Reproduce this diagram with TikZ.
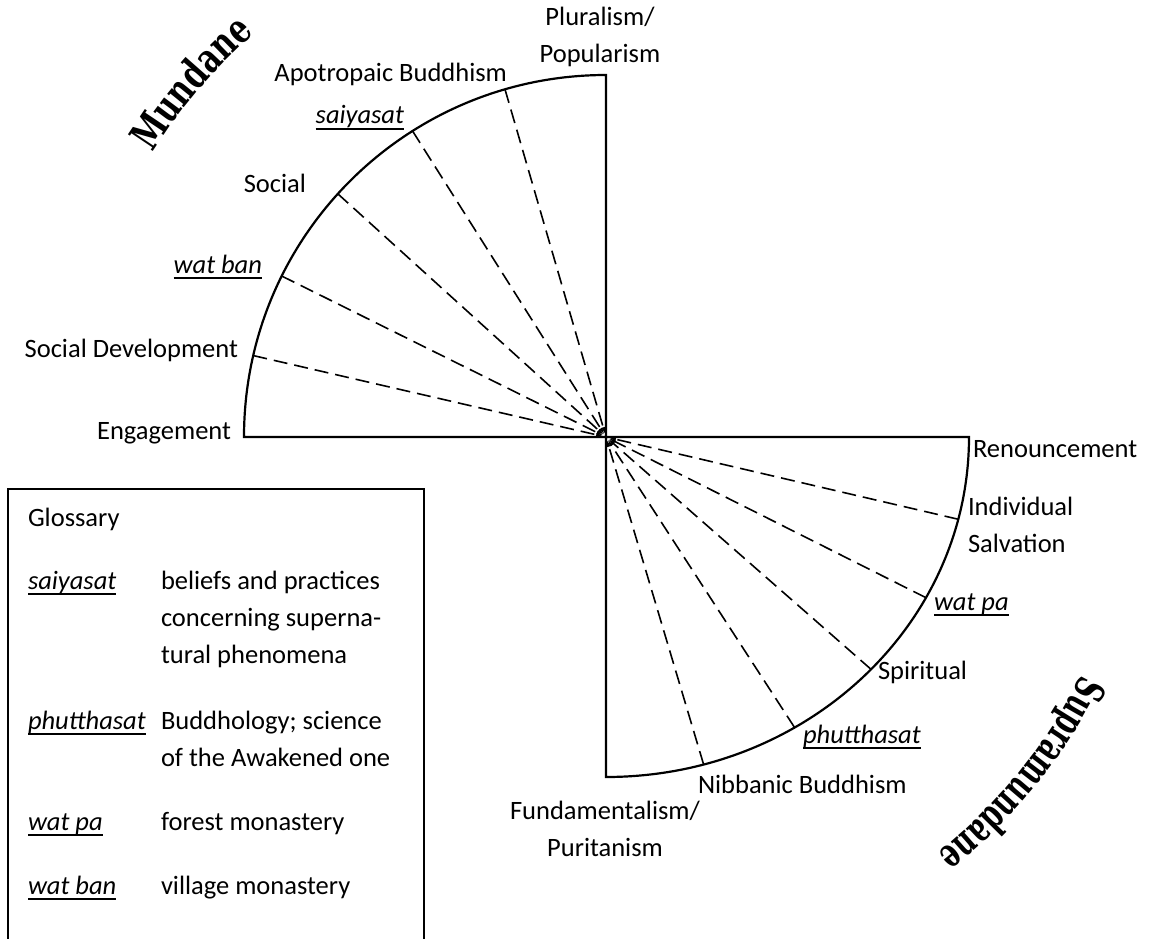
\documentclass[tikz,border=0pt]{standalone}
\usepackage{fontspec}
\setmainfont{Carlito}
\newfontfamily\mundfamily{DejaVu Serif}[FakeStretch=0.73]
\newfontfamily\suprfamily{DejaVu Serif}[FakeStretch=0.66]
\usetikzlibrary{arrows.meta,decorations.text}
\newcommand\ulit[1]{{\setbox0\hbox{\itshape #1}\rlap{\rule[-6.3pt]{\wd0}{2pt}}\box0}}
\newcommand\mundserif{\mundfamily\bfseries\fontsize{41}{44}\selectfont}
\newcommand\suprserif{\suprfamily\bfseries\fontsize{41}{44}\selectfont}
\begin{document}
\begin{tikzpicture}[x=1pt,y=1pt,
  lab/.style={font=\fontsize{26.5}{37}\selectfont, inner sep=0pt, outer sep=0pt},
  outline/.style={line width=2.2pt, line join=miter},
  dashline/.style={line width=1.6pt, dash pattern=on 14pt off 7pt, -{Latex[length=10pt,width=3.6pt]}},
  gbox/.style={line width=1.6pt}
  ]
\useasboundingbox (0,0) rectangle (1149,-939);
\coordinate (C) at (606,-437);
% quadrants
\draw[outline] (C) -- ++(180:362) arc[start angle=180,end angle=90,radius=362] -- cycle;
\draw[outline] (C) -- ++(0:363) arc[start angle=0,end angle=-90,x radius=363,y radius=340] -- cycle;
% dashed rays
\foreach \a [count=\i] in {106.2,122.3,137.8,153.6,167}{
  \coordinate (u\i) at ([shift={(\a:362)}]C);
  \draw[dashline] (u\i) -- (C);
}
\foreach \t [count=\i] in {-14,-28.2,-43.1,-58.7,-74.4}{
  \coordinate (l\i) at ([shift={({363*cos(\t)},{340*sin(\t)})}]C);
  \draw[dashline] (l\i) -- (C);
}
% upper-left labels
\node[lab, anchor=base east] (eng) at (231,-439) {Engagement};
\node[lab, anchor=base east] (sdev) at (238,-357) {Social Development};
\node[lab, anchor=base east] (wban) at (262,-273) {\ulit{wat ban}};
\node[lab, anchor=base east] (soc) at (306,-193) {Social};
\node[lab, anchor=base east] (sai) at (404,-124) {\ulit{saiyasat}};
\node[lab, anchor=base east] (apo) at (507,-82) {Apotropaic Buddhism};
\node[lab, anchor=base, align=center] (plu) at (600,-63) {Pluralism/\\Popularism};
% lower-right labels
\node[lab, anchor=base west] (ren) at (973,-457) {Renouncement};
\node[lab, anchor=base west, align=left] (ind) at (968,-552) {Individual\\Salvation};
\node[lab, anchor=base west] (wpa) at (934,-610) {\ulit{wat pa}};
\node[lab, anchor=base west] (spi) at (878,-679) {Spiritual};
\node[lab, anchor=base west] (phu) at (803,-743) {\ulit{phutthasat}};
\node[lab, anchor=base west] (nib) at (698,-793) {Nibbanic Buddhism};
\node[lab, anchor=base, align=center] (fun) at (605,-856) {Fundamentalism/\\Puritanism};
% curved titles
\path[decorate, decoration={text along path, text={|\mundserif|Mundane}, text align=center}]
  ([shift={(153:535)}]C) arc[start angle=153, end angle=126, radius=535];
\path[decorate, decoration={text along path, text={|\suprserif|Supramundane}, text align=center}]
  ([shift={(-22:532)}]C) arc[start angle=-22, end angle=-56, radius=532];
% glossary
\draw[gbox] (8,-960) -- (8,-489) -- (424,-489) -- (424,-960);
\node[lab, anchor=base west] (gt) at (28,-526) {Glossary};
\node[lab, anchor=base west] (g1) at (28,-589) {\ulit{saiyasat}};
\node[lab, anchor=base west, align=left] (d1) at (161,-663) {beliefs and practices\\concerning superna-\\tural phenomena};
\node[lab, anchor=base west] (g2) at (28,-729) {\ulit{phutthasat}};
\node[lab, anchor=base west, align=left] (d2) at (161,-766) {Buddhology; science\\of the Awakened one};
\node[lab, anchor=base west] (g3) at (28,-830) {\ulit{wat pa}};
\node[lab, anchor=base west] (d3) at (161,-830) {forest monastery};
\node[lab, anchor=base west] (g4) at (28,-894) {\ulit{wat ban}};
\node[lab, anchor=base west] (d4) at (161,-894) {village monastery};
\end{tikzpicture}
\end{document}
